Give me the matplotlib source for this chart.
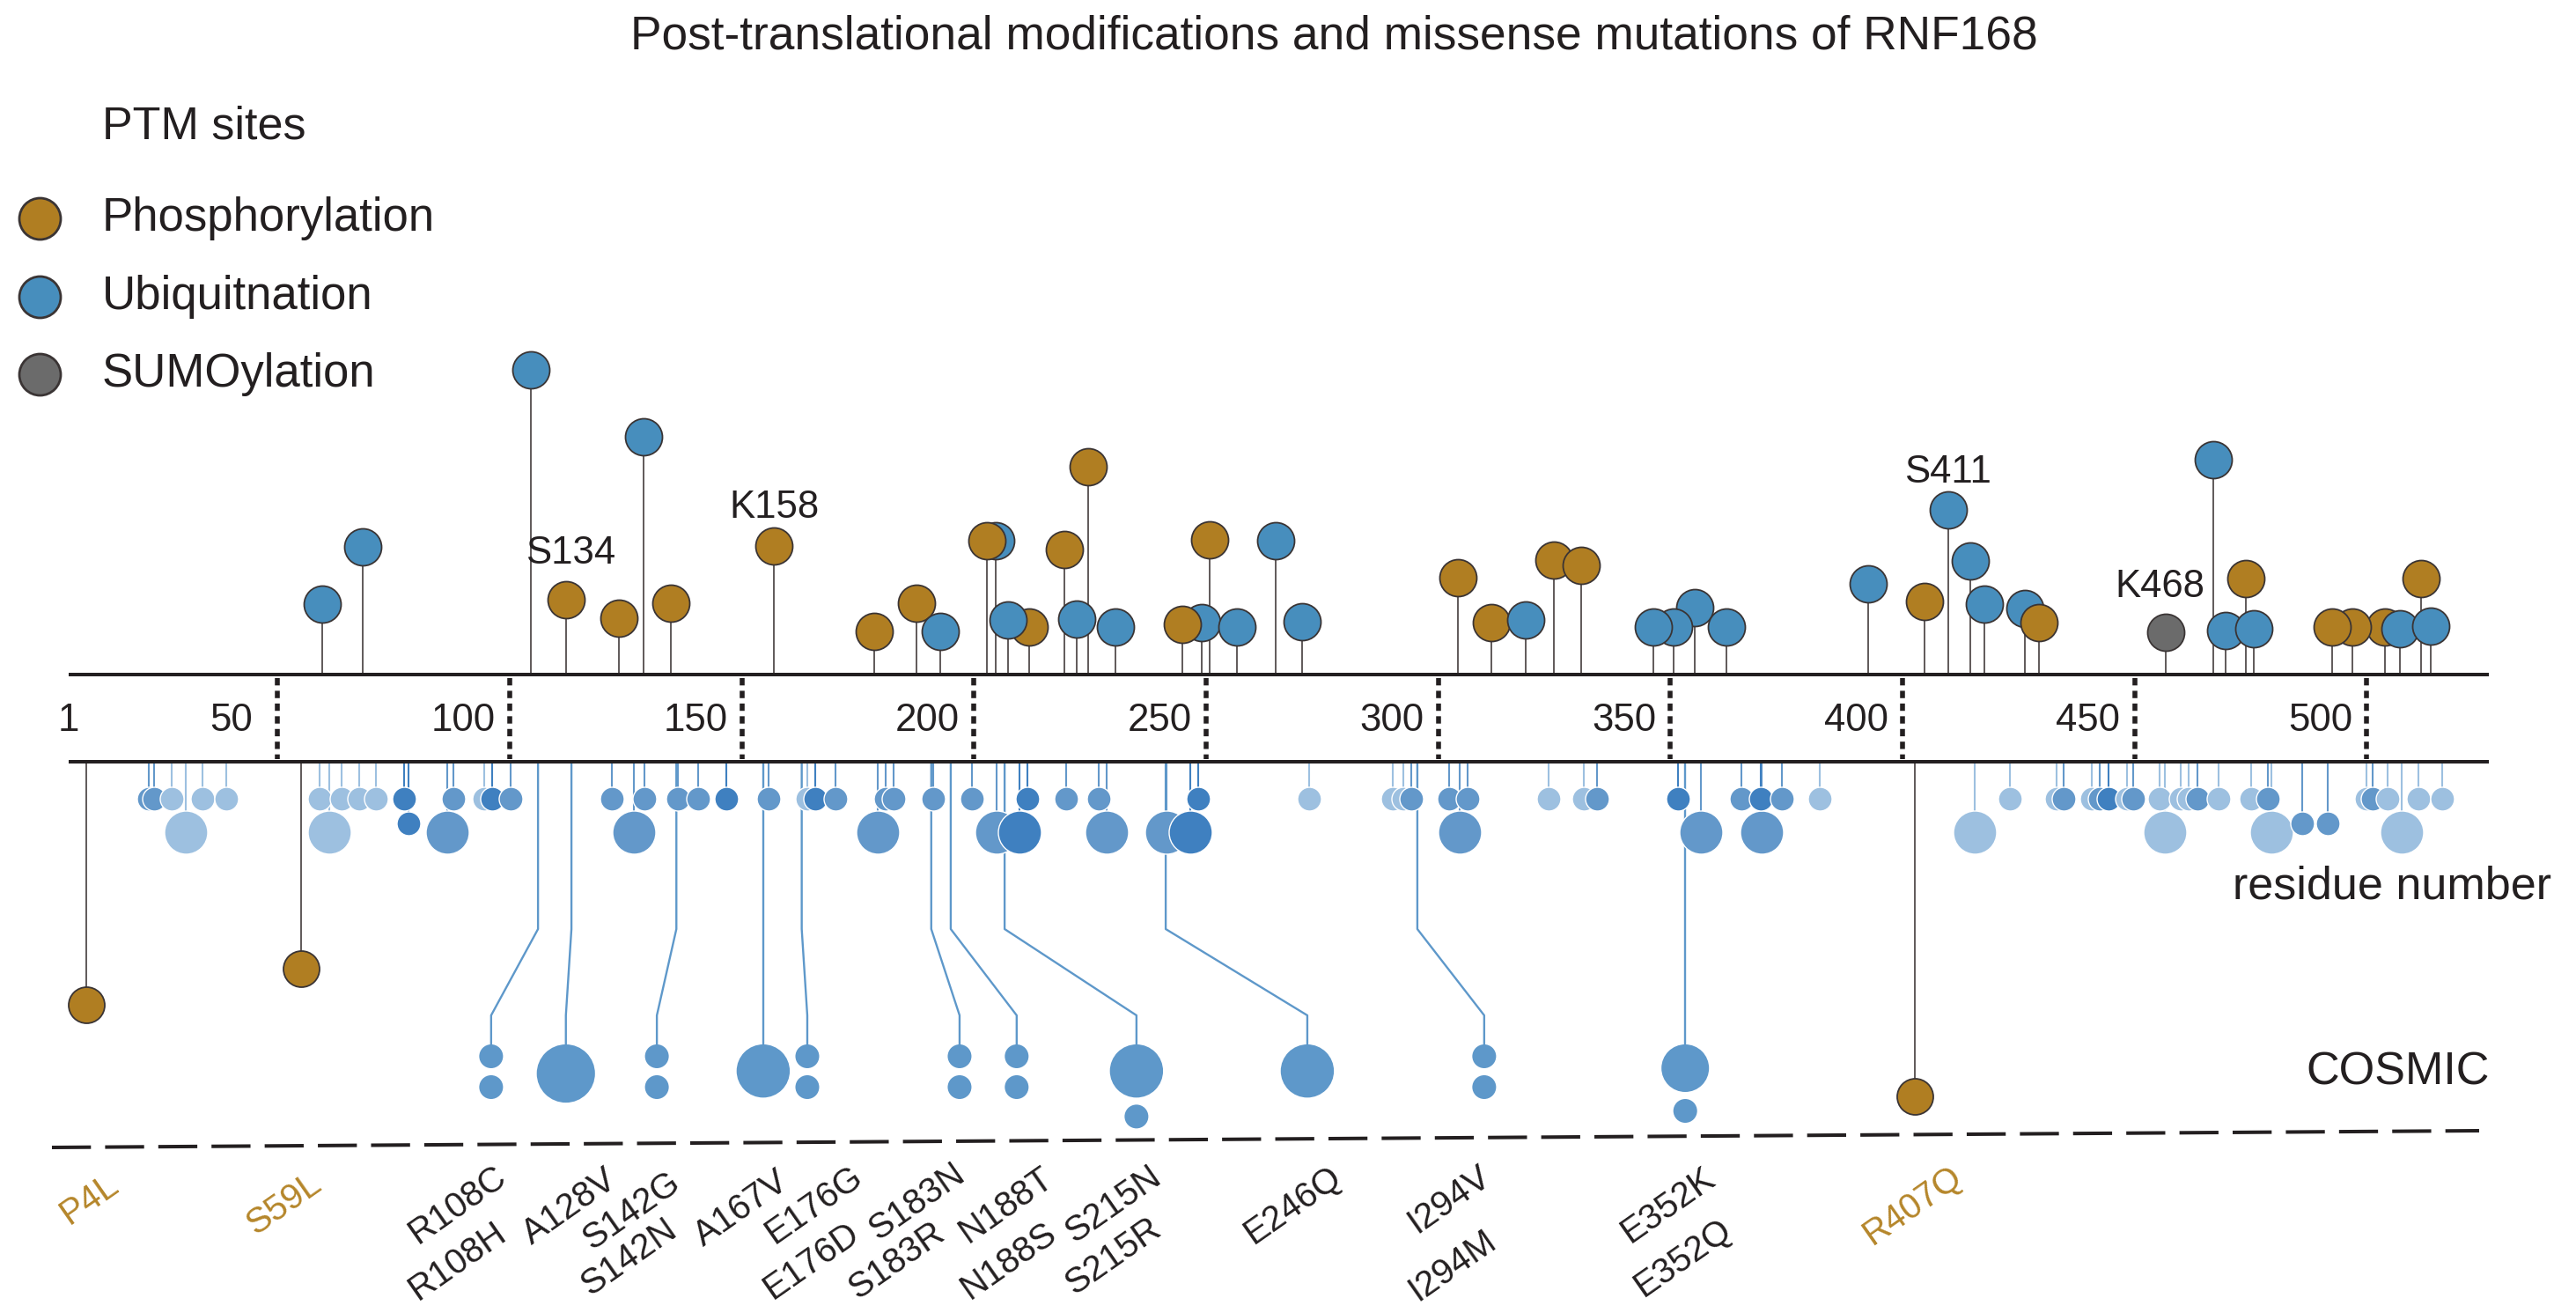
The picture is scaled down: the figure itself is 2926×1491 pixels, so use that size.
import matplotlib
matplotlib.use("Agg")
import matplotlib.pyplot as plt

plt.rcParams['font.family'] = ['Liberation Sans', 'DejaVu Sans']

# ---------------- data ----------------
# PTM sites (residue position, lollipop height, type) in drawing order
ptm_pos = [59.6, 68.3, 104.5, 112.1, 123.5, 128.8, 134.7, 156.9, 178.5, 187.6,
           192.7, 204.7, 202.8, 211.9, 207.3, 219.4, 224.6, 222.1, 230.4, 249.0,
           244.9, 250.7, 256.6, 265.0, 270.7, 304.2, 311.4, 318.8, 324.9, 330.8,
           355.3, 350.7, 346.3, 362.1, 392.6, 404.7, 409.8, 414.6, 417.6, 426.3,
           429.4, 456.7, 467.0, 469.6, 474.0, 475.7, 503.9, 496.9, 492.5, 507.2,
           511.7, 513.8]
ptm_height = [80, 145, 346, 85, 64, 270, 81, 146, 49, 81,
              49, 152, 152, 54, 62, 142, 236, 63, 54, 59,
              57, 153, 54, 152, 60, 110, 59, 62, 130, 124,
              76, 54, 54, 54, 103, 83, 187, 129, 80, 75,
              59, 48, 244, 50, 109, 52, 54, 54, 54, 52,
              109, 55]
ptm_type = ['U', 'U', 'U', 'P', 'P', 'U', 'P', 'P', 'P', 'P',
            'U', 'U', 'P', 'P', 'U', 'P', 'P', 'U', 'U', 'U',
            'P', 'P', 'U', 'U', 'U', 'P', 'P', 'U', 'P', 'P',
            'U', 'U', 'U', 'U', 'U', 'P', 'U', 'U', 'U', 'U',
            'P', 'S', 'U', 'U', 'P', 'U', 'P', 'P', 'P', 'U',
            'P', 'U']
ptm_label_names = ['S134', 'K158', 'S411', 'K468']
ptm_label_sites = [112.1, 156.9, 409.8, 456.7]

legend_names = ['Phosphorylation', 'Ubiquitnation', 'SUMOylation']
legend_types = ['P', 'U', 'S']

tick_values = [1, 50, 100, 150, 200, 250, 300, 350, 400, 450, 500]
tick_labels = ['1', '50', '100', '150', '200', '250', '300', '350', '400', '450', '500']

# variant markers below the axis (position, size class, shade)
var_pos = [22.3, 23.4, 27.2, 30.2, 33.8, 38.9,
           59.1, 61.1, 63.8, 67.6, 71.2, 77.3, 78.2, 86.5, 87.9, 94.5, 96.2, 100.2,
           122.0, 126.7, 129.0, 136.2, 140.6, 146.7, 155.8, 164.1, 165.8, 170.2,
           179.3, 181.0, 182.7, 191.2, 199.6, 204.9, 209.8, 211.5, 219.9, 226.9,
           228.6, 241.5, 246.6, 248.3, 272.2, 290.2, 292.5, 294.2, 302.3, 304.6,
           306.3, 323.8, 331.4, 334.2, 351.7, 356.6, 365.3, 369.5, 369.7, 374.0,
           382.2, 415.6, 423.1, 433.2, 434.7, 440.8, 442.5, 444.4, 448.4, 449.7,
           455.4, 456.5, 459.9, 461.6, 463.5, 468.1, 475.1, 478.7, 479.5, 486.1,
           491.6, 499.9, 501.3, 504.5, 507.5, 511.1, 516.2]
var_size = ['s', 's', 's', 'b', 's', 's',
            's', 'b', 's', 's', 's', 's', 'm', 'b', 's', 's', 's', 's',
            's', 'b', 's', 's', 's', 's', 's', 's', 's', 's',
            'b', 's', 's', 's', 's', 'b', 'b', 's', 's', 's',
            'b', 'b', 'b', 's', 's', 's', 's', 's', 's', 'b',
            's', 's', 's', 's', 's', 'b', 's', 's', 'b', 's',
            's', 'b', 's', 's', 's', 's', 's', 's', 's', 's',
            's', 'b', 's', 's', 's', 's', 's', 's', 'b', 'm',
            'm', 's', 's', 's', 'b', 's', 's']
var_shade = [1, 1, 0, 0, 0, 0,
             0, 0, 0, 0, 0, 2, 2, 1, 1, 0, 2, 1,
             1, 1, 1, 1, 1, 2, 1, 0, 2, 1,
             1, 1, 1, 1, 1, 1, 2, 2, 1, 1,
             1, 1, 2, 2, 0, 0, 0, 1, 1, 1,
             1, 0, 0, 1, 2, 1, 1, 2, 1, 1,
             0, 0, 0, 0, 1, 0, 1, 2, 0, 1,
             0, 0, 0, 0, 1, 0, 0, 1, 0, 1,
             1, 0, 1, 0, 0, 0, 0]

# COSMIC missense mutations
cosmic_pos = [106.1, 113.3, 135.9, 154.6, 162.9, 190.8, 195.0, 206.6, 241.3, 295.5, 353.2]
cosmic_col = [96.0, 112.1, 131.7, 154.6, 164.1, 196.9, 209.2, 235.0, 271.8, 309.9, 353.2]
cosmic_counts = [[1, 1], [6], [1, 1], [5], [1, 1], [1, 1], [1, 1], [5, 1], [5], [1, 1], [4, 1]]
cosmic_labels = [['R108C', 'R108H'], ['A128V'], ['S142G', 'S142N'], ['A167V'],
                 ['E176G', 'E176D'], ['S183N', 'S183R'], ['N188T', 'N188S'],
                 ['S215N', 'S215R'], ['E246Q'], ['I294V', 'I294M'], ['E352K', 'E352Q']]
gold_mut_names = ['P4L', 'S59L', 'R407Q']
gold_mut_pos = [8.8, 55.1, 402.6]

# ---------------- layout / style ----------------
PX0, PXS = 51.6, 5.2735          # pixel <-> residue mapping of the panel
W, H = 2926, 1491
BASE = 766                       # pixel row of top axis line
DARK = '#231f20'
COL = {'P': '#b07e22', 'U': '#478ebd', 'S': '#6b6b6b'}
EDGE = '#3a3434'
SHADES = ['#9dc0e0', '#6398ca', '#3f80c0']
COSMIC_BLUE = '#5e98ca'
GOLD_TXT = '#b5862a'


def spx(d):
    return (d * 72 / 100) ** 2


fig = plt.figure(figsize=(W / 100, H / 100), dpi=100)
ax = fig.add_axes([0, 0, 1, 1])
ax.set_xlim(-PX0 / PXS, (W - PX0) / PXS)
ax.set_ylim(BASE - H, BASE)
ax.axis('off')

fig.text(1515 / W, 1 - 41 / H, 'Post-translational modifications and missense mutations of RNF168',
         ha='center', va='center', fontsize=38.3, color=DARK)

# legend
ax.text(12.2, BASE - 144, 'PTM sites', ha='left', va='center', fontsize=37.5, color=DARK)
for i, (nm, t) in enumerate(zip(legend_names, legend_types)):
    yy = BASE - (248 + i * 88.5)
    ax.scatter([-1.25], [yy], s=spx(47), c=COL[t], edgecolors=EDGE, linewidths=2.0, zorder=5)
    ax.text(12.2, yy, nm, ha='left', va='center', fontsize=38, color=DARK)

# axis lines
x_start, x_end = 5.0, 526.3
bot = -99
ax.plot([x_start, x_end], [0, 0], color=DARK, lw=2.9, solid_capstyle='butt', zorder=4)
ax.plot([x_start, x_end], [bot, bot], color=DARK, lw=2.9, solid_capstyle='butt', zorder=4)
for tv, tl in zip(tick_values, tick_labels):
    if tv == 1:
        ax.text(x_start, -52, tl, ha='center', va='center', fontsize=31.5, color=DARK)
    else:
        ax.plot([tv, tv], [-4, -96], color=DARK, lw=4.0, dashes=(1.5, 1.1),
                solid_capstyle='butt', dash_capstyle='butt', zorder=4)
        ax.text(tv - 10, -52, tl, ha='center', va='center', fontsize=31.5, color=DARK)

# PTM lollipops
for i, (p, h, t) in enumerate(zip(ptm_pos, ptm_height, ptm_type)):
    ax.plot([p, p], [0, h], color='#5f5959', lw=1.4, zorder=2)
    ax.scatter([p], [h], s=spx(42), c=COL[t], edgecolors=EDGE, linewidths=1.3,
               zorder=3 + i * 0.01)
label_dy = [53, 43, 42, 51]
label_dx = [1.0, 0.0, 0.0, -1.2]
for nm, site, dy, dx in zip(ptm_label_names, ptm_label_sites, label_dy, label_dx):
    h = ptm_height[ptm_pos.index(site)]
    ax.text(site + dx, h + dy, nm, ha='center', va='center', fontsize=31.5, color=DARK, zorder=6)

# variants under the axis
row_y = {'s': -141, 'm': -169, 'b': -179}
row_d = {'s': 27, 'm': 27, 'b': 49}
order = sorted(range(len(var_pos)), key=lambda k: 0 if var_size[k] == 'b' else 1)
for k in order:
    p, sz, sh = var_pos[k], var_size[k], var_shade[k]
    ax.plot([p, p], [bot, row_y[sz]], color=SHADES[sh], lw=1.5, zorder=2)
for k in order:
    p, sz, sh = var_pos[k], var_size[k], var_shade[k]
    ax.scatter([p], [row_y[sz]], s=spx(row_d[sz]), c=SHADES[sh], edgecolors='white',
               linewidths=1.0, zorder=3 if sz == 'b' else 3.5)

ax.text(505.5, -241, 'residue number', ha='center', va='center', fontsize=37.5, color=DARK)
ax.text(506.6, -452, 'COSMIC', ha='center', va='center', fontsize=37.5, color=DARK)

# COSMIC lollipops
bend1, bend2, ctop = -289, -387, -420
for p, c, counts in zip(cosmic_pos, cosmic_col, cosmic_counts):
    if abs(p - c) < 0.01:
        xs, ys = [p, p], [bot, ctop]
    else:
        xs, ys = [p, p, c, c], [bot, bend1, bend2, ctop]
    ax.plot(xs, ys, color=COSMIC_BLUE, lw=1.7, zorder=2)
    y = ctop
    for n in counts:
        d = 27 * n ** 0.5
        yc = y - d / 2
        ax.scatter([c], [yc], s=spx(d), c=COSMIC_BLUE, edgecolors='none', zorder=3)
        y = yc - d / 2 - 8

gold_depth = [-375, -334, -479]
for p, dep in zip(gold_mut_pos, gold_depth):
    ax.plot([p, p], [bot, dep], color='#5f5959', lw=1.4, zorder=2)
    ax.scatter([p], [dep], s=spx(41), c=COL['P'], edgecolors=EDGE, linewidths=1.3, zorder=3)

# dashed separator
ax.plot([1.4, 524.2], [-537, -518], color=DARK, lw=2.9, dashes=(11, 4), zorder=2)

# mutation labels (rotated)
upper_y, lower_y = -602, -666
lab_x = {'P4L': 9.5, 'S59L': 51.3, 'R108C': 88.8, 'R108H': 88.8, 'A128V': 112.9,
         'S142G': 126.2, 'S142N': 125.6, 'A167V': 149.9, 'E176G': 165.6, 'E176D': 165.0,
         'S183N': 187.6, 'S183R': 183.3, 'N188T': 206.9, 'N188S': 207.5, 'S215N': 229.9,
         'S215R': 229.9, 'E246Q': 268.6, 'I294V': 302.4, 'I294M': 303.1, 'E352K': 349.6,
         'E352Q': 352.6, 'R407Q': 402.1}
lab_dy = {'P4L': 6, 'S59L': 1, 'S142G': -7, 'S142N': 4, 'A167V': -4, 'A128V': -2,
          'S183N': 3, 'S215R': 5, 'I294V': 6, 'I294M': -5, 'E352Q': 4}
for names in cosmic_labels:
    for j, nm in enumerate(names):
        yy = (upper_y if j == 0 else lower_y) + lab_dy.get(nm, 0)
        ax.text(lab_x[nm], yy, nm, rotation=35, rotation_mode='anchor', ha='center',
                va='center', fontsize=29, color=DARK)
for nm in gold_mut_names:
    ax.text(lab_x[nm], upper_y + lab_dy.get(nm, 0), nm, rotation=35, rotation_mode='anchor',
            ha='center', va='center', fontsize=29, color=GOLD_TXT)

fig.savefig('out.png', dpi=100)
